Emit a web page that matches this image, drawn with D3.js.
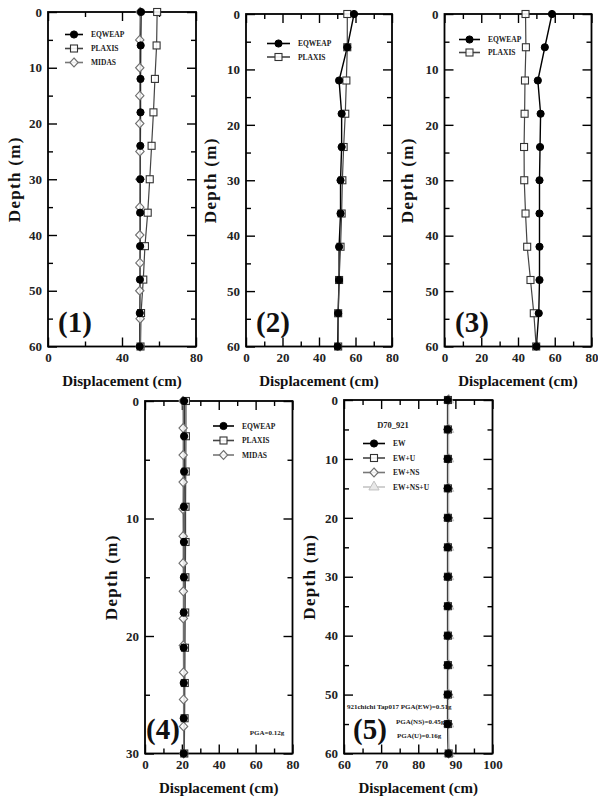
<!DOCTYPE html>
<html>
<head>
<meta charset="utf-8">
<script src="https://cdn.jsdelivr.net/npm/d3@7"></script>
<style>
  body { margin: 0; background: #fff; }
</style>
</head>
<body>
<svg id="chart" width="598" height="800"></svg>
<script>
// ---- data ----
var depth60 = [0, 6, 12, 18, 24, 30, 36, 42, 48, 54, 60];
var depth60by5 = [0, 5, 10, 15, 20, 25, 30, 35, 40, 45, 50, 55, 60];
var depth30 = [0, 3, 6, 9, 12, 15, 18, 21, 24, 27, 30];
var depth30midas = [0, 2.3, 4.6, 6.9, 9.2, 11.5, 13.8, 16.2, 18.5, 20.8, 23.1, 25.4, 27.7, 30];

// panel (1)
var p1Eqweap = [50.3, 50.1, 50, 50, 49.9, 49.9, 49.8, 49.8, 49.7, 49.6, 49.6];
var p1Plaxis = [59, 58.7, 57.8, 57, 56, 55, 53.9, 52.4, 51.5, 50.3, 50];
var p1Midas = [49.8, 49.6, 49.6, 49.6, 49.6, 49.7, 49.7, 49.6, 49.6, 49.7, 49.6, 49.8, 49.8];
// panel (2)
var p2Eqweap = [59.2, 55.5, 51, 52.4, 52.4, 51.8, 51.8, 51, 51, 50.5, 50.2];
var p2Plaxis = [55.5, 55.5, 55, 54.4, 53.5, 52.8, 52.4, 51.8, 51, 50.5, 50.5];
// panel (3)
var p3Eqweap = [58.5, 54.6, 50.8, 52.3, 52, 51.7, 51.7, 51.7, 51.7, 51.3, 50];
var p3Plaxis = [44.1, 44.3, 43.8, 43.6, 43.3, 43.4, 44.1, 45, 46.8, 48.6, 49.9];
// panel (4)
var p4Eqweap = [21.2, 21.2, 21.2, 21.1, 21.1, 21.1, 21, 21, 21, 21, 21];
var p4Plaxis = [22.2, 22.2, 22.1, 22, 22, 21.9, 21.8, 21.7, 21.6, 21.5, 21.3];
var p4Midas = [20.6, 20.7, 20.7, 20.7, 20.6, 20.7, 20.7, 20.8, 20.8, 20.8, 20.9, 20.9, 20.9, 21];
// panel (5)
var p5Ew = [87.9, 87.9, 87.9, 87.9, 87.9, 87.9, 87.9, 87.9, 87.9, 87.9, 87.9, 87.9, 88.1];
var p5EwU = [88, 88, 88, 88, 88, 88, 88, 88, 88, 88, 88, 88, 88.2];
var p5EwNs = [88.1, 88.1, 88.1, 88.1, 88.1, 88.1, 88.1, 88.1, 88.1, 88.1, 88.1, 88.1, 88.2];
var p5EwNsU = [88.2, 88.2, 88.2, 88.2, 88.2, 88.2, 88.2, 88.2, 88.2, 88.2, 88.2, 88.2, 88.3];

var svg = d3.select("#chart");
var FONT = "'Liberation Serif', 'Times New Roman', serif";

// series styles
var styles = {
  circle:   { line: "#000", mark: "#000", fill: "#000", width: 1.4 },
  square:   { line: "#444", mark: "#333", fill: "#fff", width: 1.2 },
  diamond:  { line: "#777", mark: "#707070", fill: "#fff", width: 1.2 },
  triangle: { line: "#c4c4c4", mark: "#c0c0c0", fill: "#e8e8e8", width: 1.2 }
};

function txt(g, x, y, size, s) {
  return g.append("text").attr("x", x).attr("y", y)
    .style("font-family", FONT).style("font-weight", "bold").style("font-size", size + "px")
    .attr("fill", "#111").text(s);
}

function drawMarker(g, shape, cx, cy, st) {
  if (shape === "circle") {
    g.append("circle").attr("cx", cx).attr("cy", cy).attr("r", 3.6)
      .attr("fill", st.fill).attr("stroke", st.mark).attr("stroke-width", 1);
  } else if (shape === "square") {
    g.append("rect").attr("x", cx - 3.5).attr("y", cy - 3.5).attr("width", 7).attr("height", 7)
      .attr("fill", st.fill).attr("fill-opacity", 0.9).attr("stroke", st.mark).attr("stroke-width", 1.1);
  } else if (shape === "diamond") {
    g.append("path").attr("d", "M" + cx + "," + (cy - 4.5) + "L" + (cx + 4.2) + "," + cy + "L" + cx + "," + (cy + 4.5) + "L" + (cx - 4.2) + "," + cy + "Z")
      .attr("fill", st.fill).attr("fill-opacity", 0.85).attr("stroke", st.mark).attr("stroke-width", 1.1);
  } else {
    g.append("path").attr("d", d3.symbol(d3.symbolTriangle, 45)())
      .attr("transform", "translate(" + cx + "," + cy + ")")
      .attr("fill", st.fill).attr("stroke", st.mark).attr("stroke-width", 1);
  }
}

function panel(cfg) {
  var x = d3.scaleLinear().domain(cfg.xDomain).range([cfg.left, cfg.right]);
  var y = d3.scaleLinear().domain([0, cfg.yMax]).range([cfg.top, cfg.bottom]);
  var g = svg.append("g");

  function ax(axisFn, scale, ticks, size, labels, tr) {
    var a = axisFn(scale).tickValues(ticks).tickSizeInner(-size).tickSizeOuter(0).tickPadding(labels ? 6 : 0);
    if (!labels) a.tickFormat("");
    var s = g.append("g").attr("transform", tr).call(a);
    s.select(".domain").remove();
    s.selectAll("line").attr("stroke", "#000").attr("stroke-width", 1.4);
    s.selectAll("text").attr("fill", "#222")
      .style("font-family", FONT).style("font-weight", "bold").style("font-size", "13px");
    return s;
  }
  var bt = "translate(0," + cfg.bottom + ")", tt = "translate(0," + cfg.top + ")";
  var lt = "translate(" + cfg.left + ",0)", rt = "translate(" + cfg.right + ",0)";
  ax(d3.axisBottom, x, cfg.xMajor, 9, true, bt);
  ax(d3.axisBottom, x, cfg.xMinor, 5, false, bt);
  ax(d3.axisTop, x, cfg.xMajor, 9, false, tt);
  ax(d3.axisTop, x, cfg.xMinor, 5, false, tt);
  ax(d3.axisLeft, y, cfg.yMajor, 9, true, lt);
  ax(d3.axisLeft, y, cfg.yMinor, 5, false, lt);
  ax(d3.axisRight, y, cfg.yMajor, 9, false, rt);
  ax(d3.axisRight, y, cfg.yMinor, 5, false, rt);

  g.append("rect").attr("x", cfg.left).attr("y", cfg.top)
    .attr("width", cfg.right - cfg.left).attr("height", cfg.bottom - cfg.top)
    .attr("fill", "none").attr("stroke", "#000").attr("stroke-width", 1.8);

  // series
  cfg.series.forEach(function(s) {
    var st = styles[s.shape];
    var pts = s.values.map(function(v, i) { return [v, s.depth[i]]; });
    var line = d3.line().x(function(d) { return x(d[0]); }).y(function(d) { return y(d[1]); });
    g.append("path").datum(pts).attr("d", line).attr("fill", "none")
      .attr("stroke", st.line).attr("stroke-width", st.width);
  });
  cfg.series.slice().reverse().forEach(function(s) {
    var st = styles[s.shape];
    s.values.forEach(function(v, i) { drawMarker(g, s.shape, x(v), y(s.depth[i]), st); });
  });

  // legend
  cfg.series.forEach(function(s, i) {
    var st = styles[s.shape];
    var ly = cfg.leg.y + i * cfg.leg.dy;
    g.append("line").attr("x1", cfg.leg.x).attr("x2", cfg.leg.x + cfg.leg.w)
      .attr("y1", ly).attr("y2", ly).attr("stroke", st.line).attr("stroke-width", 1.6);
    drawMarker(g, s.shape, cfg.leg.x + cfg.leg.w / 2, ly, st);
    txt(g, cfg.leg.x + cfg.leg.w + 8, ly + 2.5, 7.5, s.name).attr("fill", "#222");
  });

  // axis titles
  txt(g, (cfg.left + cfg.right) / 2, cfg.bottom + 39, 15, "Displacement (cm)")
    .attr("text-anchor", "middle");
  txt(g, 0, 0, 17, "Depth (m)")
    .attr("transform", "translate(" + cfg.yLabelX + "," + ((cfg.top + cfg.bottom) / 2) + ") rotate(-90)")
    .attr("text-anchor", "middle").style("letter-spacing", "1.3px");

  // panel number
  txt(g, cfg.numX, cfg.bottom - 15, 29, cfg.num).attr("text-anchor", "middle");

  (cfg.notes || []).forEach(function(n) {
    txt(g, n.x, n.y, n.size || 7, n.t).attr("text-anchor", n.anchor || "start").attr("fill", "#222");
  });
}

var y60Major = [0, 10, 20, 30, 40, 50, 60], y60Minor = [5, 15, 25, 35, 45, 55];
var x80Major = [0, 20, 40, 60, 80], x80Minor = [10, 30, 50, 70];

panel({
  left: 48, right: 196, top: 12, bottom: 346.5, xDomain: [0, 80], yMax: 60,
  xMajor: [0, 40, 80], xMinor: [20, 60], yMajor: y60Major, yMinor: y60Minor,
  yLabelX: 20, numX: 75, num: "(1)",
  leg: { x: 65, y: 34.5, dy: 14, w: 18 },
  series: [
    { name: "EQWEAP", shape: "circle", depth: depth60, values: p1Eqweap },
    { name: "PLAXIS", shape: "square", depth: depth60, values: p1Plaxis },
    { name: "MIDAS", shape: "diamond", depth: depth60by5, values: p1Midas }
  ]
});

panel({
  left: 246, right: 392, top: 14, bottom: 346.5, xDomain: [0, 80], yMax: 60,
  xMajor: x80Major, xMinor: x80Minor, yMajor: y60Major, yMinor: y60Minor,
  yLabelX: 216, numX: 273, num: "(2)",
  leg: { x: 267, y: 43.5, dy: 13.5, w: 23 },
  series: [
    { name: "EQWEAP", shape: "circle", depth: depth60, values: p2Eqweap },
    { name: "PLAXIS", shape: "square", depth: depth60, values: p2Plaxis }
  ]
});

panel({
  left: 444.5, right: 591.5, top: 14, bottom: 346.5, xDomain: [0, 80], yMax: 60,
  xMajor: x80Major, xMinor: x80Minor, yMajor: y60Major, yMinor: y60Minor,
  yLabelX: 413, numX: 472, num: "(3)",
  leg: { x: 459, y: 39.5, dy: 13, w: 21 },
  series: [
    { name: "EQWEAP", shape: "circle", depth: depth60, values: p3Eqweap },
    { name: "PLAXIS", shape: "square", depth: depth60, values: p3Plaxis }
  ]
});

panel({
  left: 145, right: 292.5, top: 401, bottom: 753.5, xDomain: [0, 80], yMax: 30,
  xMajor: x80Major, xMinor: x80Minor, yMajor: [0, 10, 20, 30], yMinor: [5, 15, 25],
  yLabelX: 117, numX: 163, num: "(4)",
  leg: { x: 213, y: 426, dy: 14.5, w: 21 },
  notes: [{ x: 267, y: 735, t: "PGA=0.12g", anchor: "middle" }],
  series: [
    { name: "EQWEAP", shape: "circle", depth: depth30, values: p4Eqweap },
    { name: "PLAXIS", shape: "square", depth: depth30, values: p4Plaxis },
    { name: "MIDAS", shape: "diamond", depth: depth30midas, values: p4Midas }
  ]
});

panel({
  left: 344, right: 492.5, top: 400, bottom: 753.5, xDomain: [60, 100], yMax: 60,
  xMajor: [60, 70, 80, 90, 100], xMinor: [65, 75, 85, 95], yMajor: y60Major, yMinor: y60Minor,
  yLabelX: 315, numX: 370, num: "(5)",
  leg: { x: 363, y: 443.5, dy: 14.5, w: 22 },
  notes: [
    { x: 393, y: 428, t: "D70_921", anchor: "middle", size: 8.5 },
    { x: 347, y: 709, t: "921chichi Tap017 PGA(EW)=0.51g" },
    { x: 396, y: 723.5, t: "PGA(NS)=0.45g" },
    { x: 397, y: 738, t: "PGA(U)=0.16g" }
  ],
  series: [
    { name: "EW", shape: "circle", depth: depth60by5, values: p5Ew },
    { name: "EW+U", shape: "square", depth: depth60by5, values: p5EwU },
    { name: "EW+NS", shape: "diamond", depth: depth60by5, values: p5EwNs },
    { name: "EW+NS+U", shape: "triangle", depth: depth60by5, values: p5EwNsU }
  ]
});
</script>
</body>
</html>
